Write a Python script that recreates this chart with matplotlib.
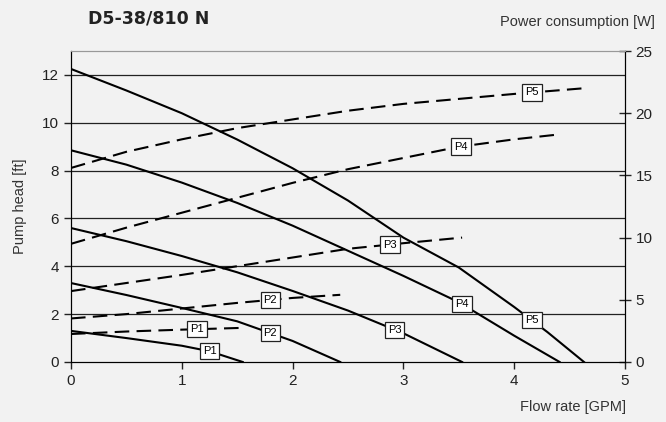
import numpy as np
import matplotlib.pyplot as plt

plt.rcParams['font.family'] = ['Liberation Sans', 'DejaVu Sans']

# pump head curves [ft] vs flow rate [GPM]
flow_p1 = [0, 0.5, 1, 1.25, 1.55]
head_p1 = [1.3, 1.0, 0.68, 0.45, 0]
flow_p2 = [0, 0.5, 1, 1.5, 2, 2.43]
head_p2 = [3.3, 2.8, 2.26, 1.7, 0.88, 0]
flow_p3 = [0, 0.5, 1, 1.5, 2, 2.5, 3, 3.53]
head_p3 = [5.6, 5.05, 4.43, 3.75, 2.97, 2.15, 1.2, 0]
flow_p4 = [0, 0.5, 1, 1.5, 2, 2.5, 3, 3.5, 4, 4.41]
head_p4 = [8.85, 8.25, 7.5, 6.65, 5.7, 4.65, 3.6, 2.5, 1.1, 0]
flow_p5 = [0, 0.5, 1, 1.5, 2, 2.5, 3, 3.5, 4, 4.3, 4.63]
head_p5 = [12.25, 11.35, 10.4, 9.3, 8.1, 6.75, 5.2, 3.95, 2.3, 1.25, 0]

# power consumption curves [W]
pflow_p1 = [0, 0.5, 1, 1.57]
power_p1 = [2.25, 2.45, 2.6, 2.75]
pflow_p2 = [0, 0.5, 1, 1.5, 2, 2.43]
power_p2 = [3.5, 3.85, 4.3, 4.75, 5.15, 5.4]
pflow_p3 = [0, 0.5, 1, 1.5, 2, 2.5, 3, 3.53]
power_p3 = [5.7, 6.35, 7.0, 7.7, 8.4, 9.1, 9.55, 10.0]
pflow_p4 = [0, 0.5, 1, 1.5, 2, 2.5, 3, 3.5, 4, 4.41]
power_p4 = [9.5, 10.8, 12.0, 13.2, 14.4, 15.5, 16.4, 17.3, 17.9, 18.3]
pflow_p5 = [0, 0.5, 1, 1.5, 2, 2.5, 3, 3.5, 4, 4.62]
power_p5 = [15.6, 16.9, 17.9, 18.8, 19.5, 20.2, 20.75, 21.15, 21.55, 22.0]

names = ['P1', 'P2', 'P3', 'P4', 'P5']
head_curves = [(flow_p1, head_p1), (flow_p2, head_p2), (flow_p3, head_p3),
               (flow_p4, head_p4), (flow_p5, head_p5)]
power_curves = [(pflow_p1, power_p1), (pflow_p2, power_p2), (pflow_p3, power_p3),
                (pflow_p4, power_p4), (pflow_p5, power_p5)]
head_label_x = [1.25, 1.8, 2.92, 3.53, 4.16]
power_label_x = [1.14, 1.8, 2.88, 3.52, 4.16]

bg = '#f2f2f2'
fig = plt.figure(figsize=(6.66, 4.22), dpi=100, facecolor=bg)
ax = fig.add_axes([0.1066, 0.1422, 0.8318, 0.7369], facecolor=bg)
ax2 = ax.twinx()

box = dict(boxstyle='square,pad=0.28', fc='white', ec='#222222', lw=0.9)

for name, (fx, hy), lx in zip(names, head_curves, head_label_x):
    ax.plot(fx, hy, color='black', lw=1.5, zorder=3)
    ax.text(lx, np.interp(lx, fx, hy), name, fontsize=8, ha='center', va='center',
            bbox=box, zorder=5)

for name, (fx, py), lx in zip(names, power_curves, power_label_x):
    ax2.plot(fx, py, color='black', lw=1.5, dashes=(7, 3.5))
    ax2.text(lx, np.interp(lx, fx, py), name, fontsize=8, ha='center', va='center',
             bbox=box, zorder=5)

ax.set_xlim(0, 5)
ax.set_ylim(0, 13)
ax2.set_ylim(0, 25)
ax.set_xticks(range(6))
ax.set_yticks(range(0, 13, 2))
ax2.set_yticks(range(0, 26, 5))
for y in range(2, 13, 2):
    ax.axhline(y, color='#222222', lw=0.9, zorder=1)

ax.tick_params(axis='both', labelsize=11, colors='#222222', length=5, width=1)
ax2.tick_params(axis='y', labelsize=11, colors='#222222', length=8, width=1, direction='inout')
for a in (ax, ax2):
    a.spines['top'].set_color('#999999')
    a.spines['left'].set_color('black')
    a.spines['bottom'].set_color('black')
    a.spines['right'].set_color('black')

ax.set_ylabel('Pump head [ft]', fontsize=10.5, color='#333333', labelpad=11)
fig.text(0.94, 0.0355, 'Flow rate [GPM]', fontsize=10.5, color='#333333', ha='right', va='center')
fig.text(0.983, 0.948, 'Power consumption [W]', fontsize=10.5, color='#333333', ha='right', va='center')
fig.text(0.132, 0.957, 'D5-38/810 N', fontsize=12.5, fontweight='bold', color='#222222',
         family='DejaVu Sans', ha='left', va='center')

fig.savefig('out.png', dpi=100, facecolor=bg)
